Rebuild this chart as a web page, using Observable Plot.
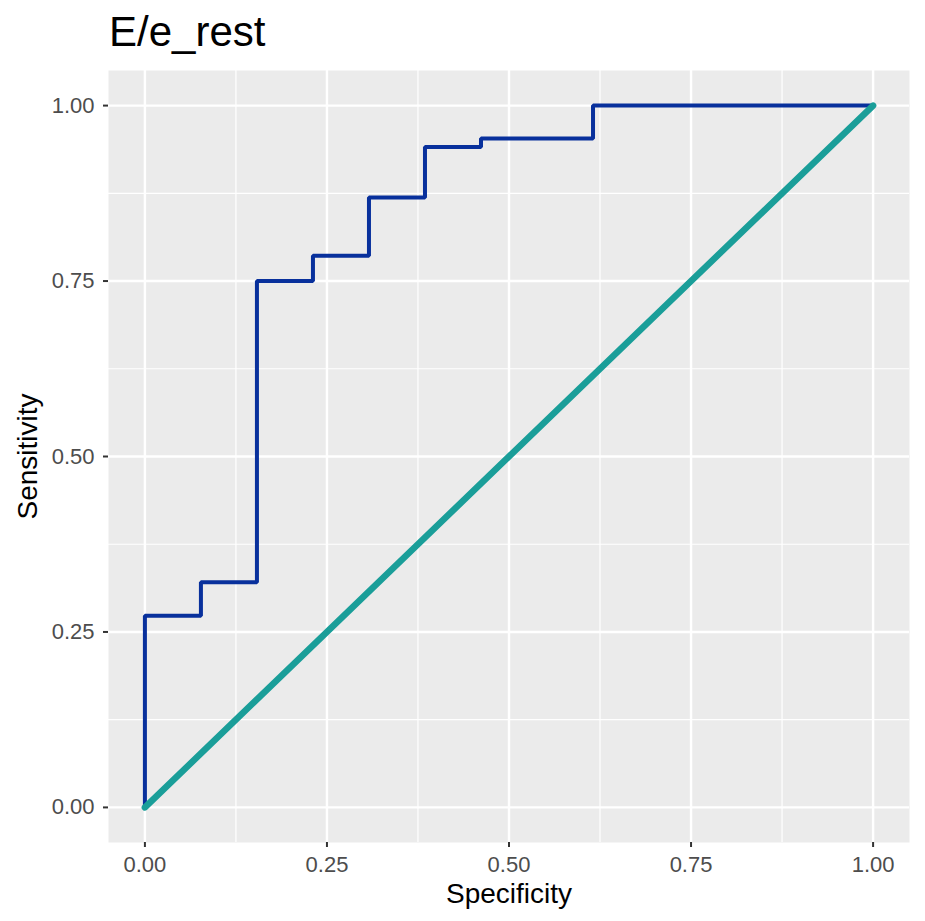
<!DOCTYPE html>
<html>
<head>
<meta charset="utf-8">
<script src="https://cdn.jsdelivr.net/npm/d3@7"></script>
<script src="https://cdn.jsdelivr.net/npm/@observablehq/plot@0.6"></script>
<style>
  html, body { margin: 0; padding: 0; background: #ffffff; }
  #title { height: 70px; position: relative; font-family: "Liberation Sans", Arial, sans-serif; }
  #title span { position: absolute; left: 109px; top: 11px; font-size: 42px; color: #000; line-height: 1; }
  svg { display: block; }
</style>
</head>
<body>
<div id="title"><span>E/e_rest</span></div>
<div id="chart"></div>
<script>
// ROC curve vertices (step-after): x = specificity axis value, y = sensitivity
const rocX = [0, 0, 1/13, 2/13, 3/13, 4/13, 5/13, 6/13, 8/13, 1];
const rocY = [0, 0.273, 0.321, 0.75, 0.786, 0.869, 0.941, 0.953, 1, 1];
// Reference diagonal
const diagX = [0, 1];
const diagY = [0, 1];
// Ticks
const majorTicks = [0, 0.25, 0.5, 0.75, 1];
const minorTicks = [0.125, 0.375, 0.625, 0.875];
const xTitle = "Specificity";
const yTitle = "Sensitivity";

const roc = rocX.map((x, i) => ({x, y: rocY[i]}));
const diag = diagX.map((x, i) => ({x, y: diagY[i]}));

const chart = Plot.plot({
  width: 925,
  height: 851,
  marginTop: 0,
  marginLeft: 108,
  marginRight: 16,
  marginBottom: 79,
  style: {fontFamily: "'Liberation Sans', Arial, sans-serif", background: "#ffffff"},
  x: {domain: [-0.05, 1.05]},
  y: {domain: [-0.05, 1.05]},
  marks: [
    Plot.frame({fill: "#EBEBEB", stroke: null}),
    Plot.gridX(minorTicks, {stroke: "#ffffff", strokeOpacity: 1, strokeWidth: 1.2}),
    Plot.gridY(minorTicks, {stroke: "#ffffff", strokeOpacity: 1, strokeWidth: 1.2}),
    Plot.gridX(majorTicks, {stroke: "#ffffff", strokeOpacity: 1, strokeWidth: 2.4}),
    Plot.gridY(majorTicks, {stroke: "#ffffff", strokeOpacity: 1, strokeWidth: 2.4}),
    Plot.axisX(majorTicks, {tickFormat: d3.format(".2f"), tickSize: 5, tickPadding: 9, fontSize: 22, fill: "#4D4D4D", stroke: "#333333", strokeWidth: 2, label: null}),
    Plot.axisY(majorTicks, {tickFormat: d3.format(".2f"), tickSize: 5, tickPadding: 9, fontSize: 22, fill: "#4D4D4D", stroke: "#333333", strokeWidth: 2, label: null}),
    Plot.line(roc, {x: "x", y: "y", curve: "step-after", stroke: "#08309C", strokeWidth: 4, strokeLinejoin: "miter"}),
    Plot.line(diag, {x: "x", y: "y", stroke: "#1A9E99", strokeWidth: 6.5}),
    Plot.text([xTitle], {frameAnchor: "bottom", textAnchor: "middle", lineAnchor: "middle", dy: 52, fontSize: 28, fill: "#000000"}),
    Plot.text([yTitle], {frameAnchor: "left", textAnchor: "middle", lineAnchor: "middle", dx: -80, rotate: -90, fontSize: 28, fill: "#000000"})
  ]
});
document.getElementById("chart").appendChild(chart);
</script>
</body>
</html>
